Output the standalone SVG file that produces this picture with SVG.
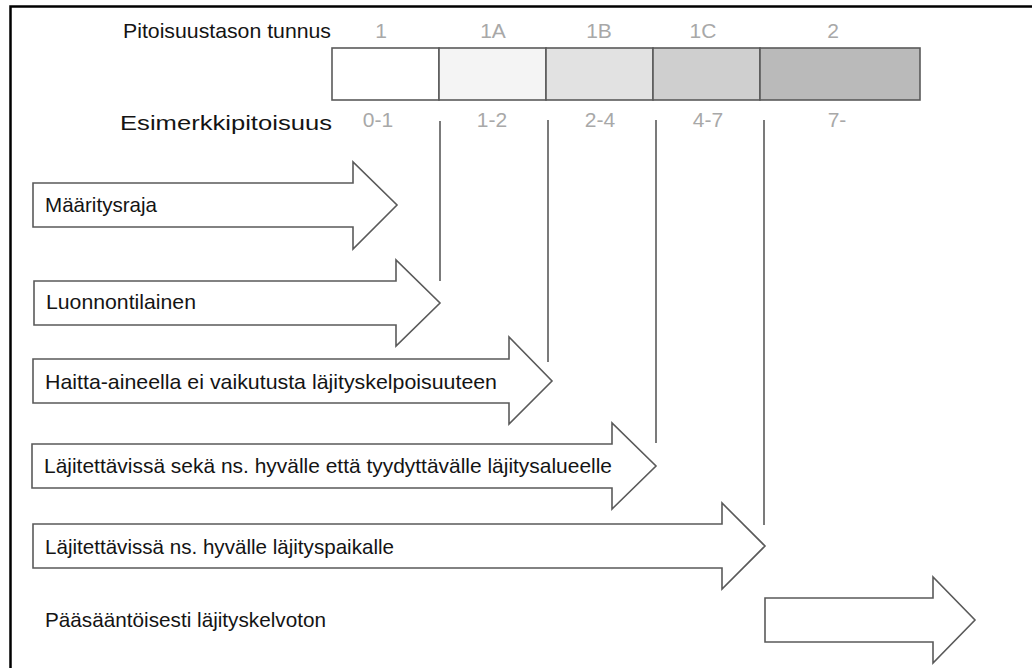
<svg xmlns="http://www.w3.org/2000/svg" width="1032" height="668" viewBox="0 0 1032 668">
  <style>
    .lbl { font-family: "Liberation Sans", Arial, sans-serif; font-size: 21px; fill: #141414; }
    .gry { font-family: "Liberation Sans", Arial, sans-serif; font-size: 21px; fill: #a8a8a8; text-anchor: middle; }
    .arrow { fill: #ffffff; stroke: #5a5a5a; stroke-width: 1.6; stroke-linejoin: miter; }
    .seg { stroke: #5a5a5a; stroke-width: 1.6; }
    .conn { stroke: #5a5a5a; stroke-width: 1.6; fill: none; }
  </style>
  <rect x="0" y="0" width="1032" height="668" fill="#ffffff"/>
  <path d="M10.5,668 V6.5 H1032" fill="none" stroke="#000000" stroke-width="2.5"/>

  <g id="header">
    <text class="lbl" x="123" y="38" textLength="208" lengthAdjust="spacingAndGlyphs">Pitoisuustason tunnus</text>
    <text class="lbl" x="120" y="130" textLength="212" lengthAdjust="spacingAndGlyphs">Esimerkkipitoisuus</text>
  </g>

  <g id="scale">
    <g id="level-1">
      <rect class="seg" x="332" y="48" width="107" height="52" fill="#ffffff"/>
      <text class="gry" x="381" y="38">1</text>
      <text class="gry" x="378" y="127">0-1</text>
    </g>
    <g id="level-1A">
      <rect class="seg" x="439" y="48" width="107" height="52" fill="#f4f4f4"/>
      <text class="gry" x="493" y="38">1A</text>
      <text class="gry" x="492" y="127">1-2</text>
    </g>
    <g id="level-1B">
      <rect class="seg" x="546" y="48" width="107" height="52" fill="#e2e2e2"/>
      <text class="gry" x="599" y="38">1B</text>
      <text class="gry" x="600" y="127">2-4</text>
    </g>
    <g id="level-1C">
      <rect class="seg" x="653" y="48" width="107" height="52" fill="#cfcfcf"/>
      <text class="gry" x="703" y="38">1C</text>
      <text class="gry" x="708" y="127">4-7</text>
    </g>
    <g id="level-2">
      <rect class="seg" x="760" y="48" width="160" height="52" fill="#bababa"/>
      <text class="gry" x="833" y="38">2</text>
      <text class="gry" x="837" y="127">7-</text>
    </g>
  </g>

  <g id="connectors">
    <line class="conn" x1="440" y1="121" x2="440" y2="281"/>
    <line class="conn" x1="548" y1="120" x2="548" y2="362"/>
    <line class="conn" x1="656" y1="120" x2="656" y2="443"/>
    <line class="conn" x1="764" y1="120" x2="764" y2="525"/>
  </g>

  <g id="arrow-maaritysraja">
    <path class="arrow" d="M33,183 H353 V162 L397,205 L353,249 V227 H33 Z"/>
    <text class="lbl" x="45" y="212" textLength="112" lengthAdjust="spacingAndGlyphs">Määritysraja</text>
  </g>

  <g id="arrow-luonnontilainen">
    <path class="arrow" d="M34,281 H396 V260 L440,303 L396,346 V325 H34 Z"/>
    <text class="lbl" x="46" y="309" textLength="150" lengthAdjust="spacingAndGlyphs">Luonnontilainen</text>
  </g>

  <g id="arrow-haitta">
    <path class="arrow" d="M33,359 H509 V337 L552,381 L509,424 V403 H33 Z"/>
    <text class="lbl" x="45" y="389" textLength="452" lengthAdjust="spacingAndGlyphs">Haitta-aineella ei vaikutusta läjityskelpoisuuteen</text>
  </g>

  <g id="arrow-hyva-tyydyttava">
    <path class="arrow" d="M32,444 H612 V423 L656,466 L612,509 V488 H32 Z"/>
    <text class="lbl" x="44" y="473" textLength="568" lengthAdjust="spacingAndGlyphs">Läjitettävissä sekä ns. hyvälle että tyydyttävälle läjitysalueelle</text>
  </g>

  <g id="arrow-hyva">
    <path class="arrow" d="M33,524 H722 V503 L765,546 L722,589 V568 H33 Z"/>
    <text class="lbl" x="45" y="554" textLength="349" lengthAdjust="spacingAndGlyphs">Läjitettävissä ns. hyvälle läjityspaikalle</text>
  </g>

  <g id="arrow-kelvoton">
    <path class="arrow" d="M765,598 H933 V577 L975,620 L933,663 V642 H765 Z"/>
    <text class="lbl" x="45" y="627" textLength="281" lengthAdjust="spacingAndGlyphs">Pääsääntöisesti läjityskelvoton</text>
  </g>
</svg>
